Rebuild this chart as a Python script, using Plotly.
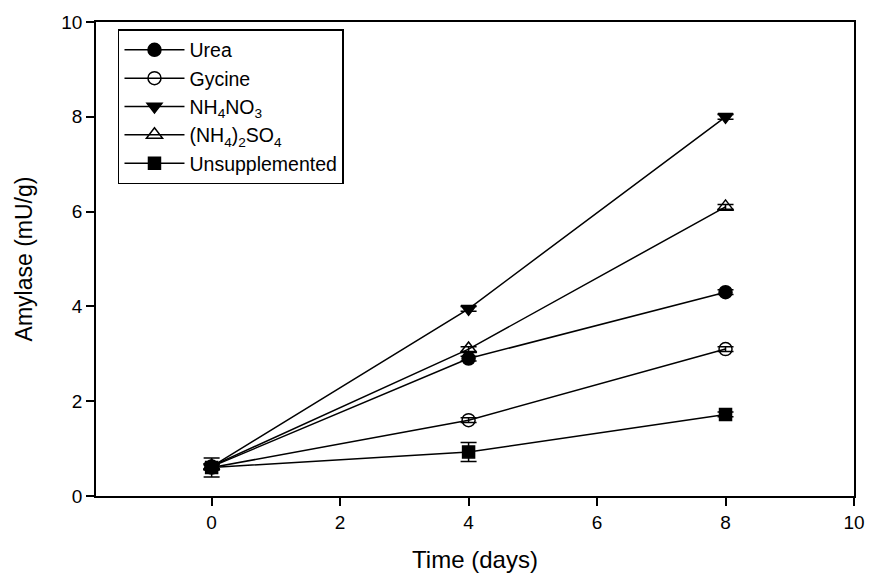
import plotly.graph_objects as go

days = [0, 4, 8]
series_names = ["Urea", "Gycine", "NH<sub>4</sub>NO<sub>3</sub>",
                "(NH<sub>4</sub>)<sub>2</sub>SO<sub>4</sub>", "Unsupplemented"]
urea = [0.62, 2.9, 4.3]
glycine = [0.6, 1.6, 3.1]
nh4no3 = [0.62, 3.95, 8.0]
nh4so4 = [0.63, 3.1, 6.1]
unsupp = [0.6, 0.93, 1.72]
urea_err = [0.05, 0.05, 0.05]
glycine_err = [0.05, 0.05, 0.05]
nh4no3_err = [0.05, 0.05, 0.05]
nh4so4_err = [0.05, 0.05, 0.05]
unsupp_err = [0.2, 0.2, 0.05]

x_ticks = [0, 2, 4, 6, 8, 10]
y_ticks = [0, 2, 4, 6, 8, 10]

values = [urea, glycine, nh4no3, nh4so4, unsupp]
errors = [urea_err, glycine_err, nh4no3_err, nh4so4_err, unsupp_err]
symbols = ["circle", "circle-open", "triangle-down", "triangle-up-open", "square"]
sizes = [13, 13, 13, 14, 12]

fig = go.Figure()
for name, v, e, sym, sz in zip(series_names, values, errors, symbols, sizes):
    fig.add_trace(go.Scatter(
        x=days, y=v, name=name, mode="lines+markers",
        line=dict(color="black", width=1.5),
        marker=dict(symbol=sym, size=sz, color="black",
                    line=dict(color="black", width=1.5)),
        error_y=dict(type="data", array=e, visible=True, color="black",
                     thickness=1.5, width=8),
    ))

axis_common = dict(showline=True, linecolor="black", linewidth=1.5, mirror=True,
                   ticks="outside", tickcolor="black", ticklen=8, tickwidth=1.5,
                   showgrid=False, zeroline=False,
                   tickfont=dict(family="Liberation Sans, Arial", size=19, color="black"))

fig.update_layout(
    width=877, height=582,
    margin=dict(l=96, r=17, t=14, b=86),
    plot_bgcolor="white", paper_bgcolor="white",
    font=dict(family="Liberation Sans, Arial", color="black"),
    xaxis=dict(range=[-1.8, 10], tickvals=x_ticks,
               title=dict(text="Time (days)", font=dict(size=24), standoff=20),
               **axis_common),
    yaxis=dict(range=[0, 10], tickvals=y_ticks,
               title=dict(text="Amylase (mU/g)", font=dict(size=23), standoff=22),
               **axis_common),
    legend=dict(x=0.029, y=0.985, xanchor="left", yanchor="top",
                bordercolor="black", borderwidth=1.5, bgcolor="white",
                font=dict(size=19.5, color="black"), tracegroupgap=0,
                itemsizing="trace", itemwidth=60),
    showlegend=True,
)

fig.write_html("out.html")
